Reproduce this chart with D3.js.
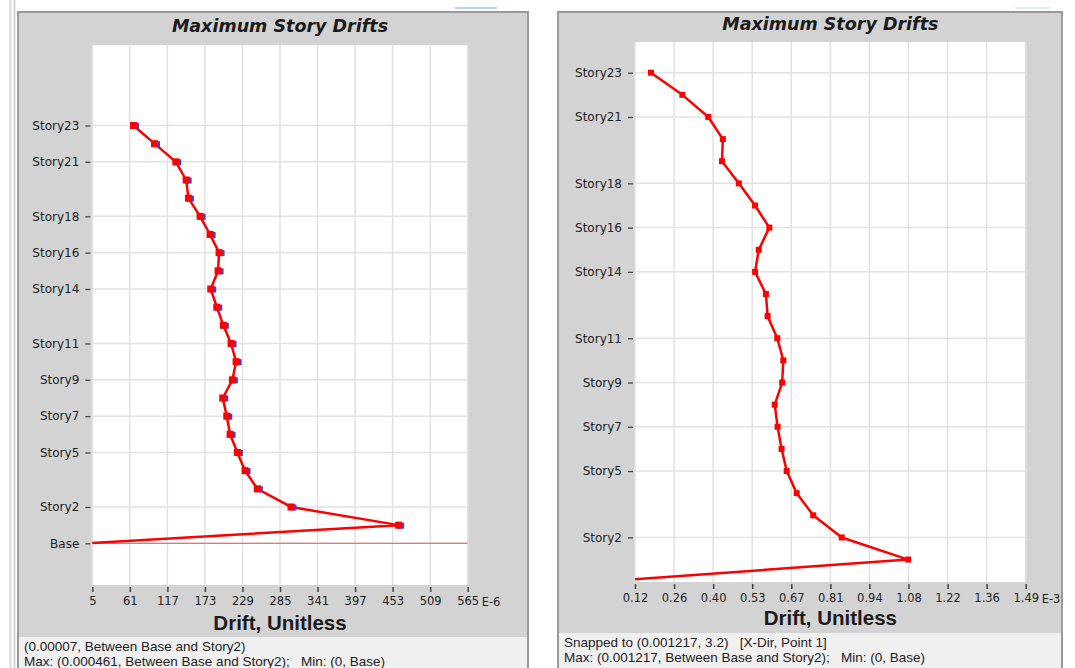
<!DOCTYPE html>
<html>
<head>
<meta charset="utf-8">
<script src="https://cdn.jsdelivr.net/npm/d3@7/dist/d3.min.js"></script>
<style>
body { margin:0; background:#ffffff; }
svg { display:block; }
</style>
</head>
<body>
<svg width="1075" height="668"></svg>
<script>

// story levels, top to bottom (Base = 0)
var levels = [23,22,21,20,19,18,17,16,15,14,13,12,11,10,9,8,7,6,5,4,3,2,1,0]

// left chart, drift in E-6
var leftDrift = [66.5,97.8,129.6,145,148.4,165.8,180.7,194.1,192.6,181.7,190.7,200.5,212,219.5,214,199.6,205.6,210.5,221.4,232.9,251.2,301.4,462,0]
// right chart, drift in E-3
var rightDrift = [0.176,0.286,0.377,0.428,0.425,0.484,0.541,0.591,0.554,0.541,0.579,0.585,0.619,0.640,0.636,0.610,0.620,0.634,0.652,0.687,0.745,0.845,1.078,0]

var leftStoryNames = ["Story23","Story21","Story18","Story16","Story14","Story11","Story9","Story7","Story5","Story2","Base"]
var leftStoryLevels = [23,21,18,16,14,11,9,7,5,2,0]
var rightStoryNames = ["Story23","Story21","Story18","Story16","Story14","Story11","Story9","Story7","Story5","Story2"]
var rightStoryLevels = [23,21,18,16,14,11,9,7,5,2]

var leftTickLabels = ["5","61","117","173","229","285","341","397","453","509","565"]
var rightTickLabels = ["0.12","0.26","0.40","0.53","0.67","0.81","0.94","1.08","1.22","1.36","1.49"]

var leftStatus = ["(0.00007, Between Base and Story2)", "Max: (0.000461, Between Base and Story2);   Min: (0, Base)"]
var rightStatus = ["Snapped to (0.001217, 3.2)   [X-Dir, Point 1]", "Max: (0.001217, Between Base and Story2);   Min: (0, Base)"]

var svg = d3.select("svg")

// window chrome on the far left
svg.append("rect").attr("x",9).attr("y",0).attr("width",3).attr("height",668).attr("fill","#e4e4e4")
svg.append("line").attr("x1",14.5).attr("x2",14.5).attr("y1",0).attr("y2",668).attr("stroke","#c8c8c8").attr("stroke-width",1.5)
svg.append("line").attr("x1",455).attr("x2",497).attr("y1",8).attr("y2",8).attr("stroke","#9ec3e6").attr("stroke-width",1.5)
svg.append("line").attr("x1",1015).attr("x2",1050).attr("y1",8).attr("y2",8).attr("stroke","#d6e6f4").attr("stroke-width",1.5)

var drawPanel = function(p)
{
    var g = svg.append("g")

    // panel frame
    g.append("rect")
        .attr("x",p.panel[0]).attr("y",p.panel[1])
        .attr("width",p.panel[2]).attr("height",p.panel[3])
        .attr("fill","#d3d3d3").attr("stroke","#9a9a9a").attr("stroke-width",2)
    g.append("rect")
        .attr("x",p.panel[0]+1).attr("y",p.statusTop)
        .attr("width",p.panel[2]-2).attr("height",668-p.statusTop)
        .attr("fill","#f0f0f0")

    var xScale = d3.scaleLinear().domain(p.xDomain).range([p.plot.left,p.plot.right])
    var yScale = d3.scaleLinear().domain([0,23]).range([p.baseY,p.topY])

    var step = (p.xDomain[1]-p.xDomain[0])/(p.tickLabels.length-1)
    var tickVals = p.tickLabels.map(function(t,i){return p.xDomain[0]+i*step})

    // plot area
    g.append("rect")
        .attr("x",p.plot.left).attr("y",p.plot.top)
        .attr("width",p.plot.right-p.plot.left).attr("height",p.plot.bottom-p.plot.top)
        .attr("fill","#ffffff")

    // grid
    g.selectAll(".vgrid").data(tickVals).enter().append("line")
        .attr("x1",function(d){return xScale(d)}).attr("x2",function(d){return xScale(d)})
        .attr("y1",p.plot.top).attr("y2",p.plot.bottom)
        .attr("stroke","#e2e2e2").attr("stroke-width",1.5)
    g.selectAll(".hgrid").data(p.storyLevels).enter().append("line")
        .attr("x1",p.plot.left).attr("x2",p.plot.right)
        .attr("y1",function(d){return yScale(d)}).attr("y2",function(d){return yScale(d)})
        .attr("stroke","#e2e2e2").attr("stroke-width",1.5)

    var clipId = "clip"+p.id
    svg.append("clipPath").attr("id",clipId).append("rect")
        .attr("x",p.plot.left).attr("y",p.plot.top)
        .attr("width",p.plot.right-p.plot.left).attr("height",p.plot.bottom-p.plot.top)

    var inner = g.append("g").attr("clip-path","url(#"+clipId+")")

    if (p.baseLine)
    {
        inner.append("line")
            .attr("x1",p.plot.left).attr("x2",p.plot.right)
            .attr("y1",yScale(0)).attr("y2",yScale(0))
            .attr("stroke","#ff6a6a").attr("stroke-width",1.3)
    }

    var pts = p.values.map(function(v,i){return {x:v, y:levels[i]}})

    var line = d3.line()
        .x(function(d){return xScale(d.x)})
        .y(function(d){return yScale(d.y)})

    inner.append("path")
        .datum(pts)
        .attr("d",line)
        .attr("fill","none")
        .attr("stroke","#ff0000")
        .attr("stroke-width",2.5)
        .attr("stroke-linejoin","round")

    var markerPts = pts.slice(0,pts.length-1)
    if (p.blueEdge)
    {
        inner.selectAll(".mkb").data(markerPts).enter().append("rect")
            .attr("x",function(d){return xScale(d.x)-p.ms/2+2})
            .attr("y",function(d){return yScale(d.y)-p.ms/2+1})
            .attr("width",p.ms).attr("height",p.ms-1)
            .attr("fill","#4040e0")
    }
    inner.selectAll(".mk").data(markerPts).enter().append("rect")
        .attr("x",function(d){return xScale(d.x)-p.ms/2})
        .attr("y",function(d){return yScale(d.y)-p.ms/2})
        .attr("width",p.ms).attr("height",p.ms)
        .attr("fill","#ff0000")

    // axes
    var xAxis = d3.axisBottom(xScale)
        .tickValues(tickVals)
        .tickFormat(function(d,i){return p.tickLabels[i]})
        .tickSize(5)
        .tickPadding(5)
    var xg = g.append("g")
        .attr("transform","translate(0,"+(p.plot.bottom+2)+")")
        .call(xAxis)
    xg.select(".domain").remove()
    xg.selectAll("line").attr("stroke","#444").attr("stroke-width",1.5)
    xg.selectAll("text").attr("fill","#222").style("font-family","DejaVu Sans").style("font-size","11.5px")

    g.append("text")
        .attr("x",p.plot.right+p.unitDx).attr("y",p.plot.bottom+21)
        .attr("fill","#222").style("font-family","DejaVu Sans").style("font-size","11.5px")
        .text(p.unit)

    var yAxis = d3.axisLeft(yScale)
        .tickValues(p.storyLevels)
        .tickFormat(function(d,i){return p.storyNames[i]})
        .tickSize(5)
        .tickPadding(6)
    var yg = g.append("g")
        .attr("transform","translate("+(p.plot.left-2)+",0)")
        .call(yAxis)
    yg.select(".domain").remove()
    yg.selectAll("line").attr("stroke","#444").attr("stroke-width",1.3)
    yg.selectAll("text").attr("fill","#222").style("font-family","DejaVu Sans").style("font-size","12px")

    // titles
    var cx = (p.plot.left+p.plot.right)/2
    g.append("text")
        .attr("x",cx).attr("y",p.titleY)
        .attr("text-anchor","middle")
        .attr("fill","#1a1a1a")
        .style("font-family","DejaVu Sans").style("font-size","17.5px")
        .style("font-weight","bold").style("font-style","italic")
        .text("Maximum Story Drifts")
    g.append("text")
        .attr("x",cx).attr("y",p.xTitleY)
        .attr("text-anchor","middle")
        .attr("fill","#1a1a1a")
        .style("font-family","Liberation Sans").style("font-size","20.5px")
        .style("font-weight","bold")
        .text("Drift, Unitless")

    g.selectAll(".status").data(p.status).enter().append("text")
        .attr("x",p.panel[0]+6)
        .attr("y",function(d,i){return p.statusTop+14+i*15})
        .attr("fill","#222")
        .style("font-family","Liberation Sans").style("font-size","13.5px")
        .style("white-space","pre")
        .text(function(d){return d})
}

drawPanel({
    id:"L",
    panel:[18,12,510,670],
    statusTop:637,
    plot:{left:92.3,right:467.7,top:45,bottom:585},
    baseY:543.3, topY:125.5,
    xDomain:[5,565],
    tickLabels:leftTickLabels,
    unit:"E-6",
    unitDx:14,
    values:leftDrift,
    storyNames:leftStoryNames,
    storyLevels:leftStoryLevels,
    baseLine:true,
    blueEdge:true,
    ms:7,
    titleY:32, xTitleY:630,
    status:leftStatus
})

drawPanel({
    id:"R",
    panel:[558,12,504,670],
    statusTop:633,
    plot:{left:635,right:1025.7,top:42,bottom:582},
    baseY:581.7, topY:72.7,
    xDomain:[0.12,1.49],
    tickLabels:rightTickLabels,
    unit:"E-3",
    unitDx:16,
    values:rightDrift,
    storyNames:rightStoryNames,
    storyLevels:rightStoryLevels,
    baseLine:false,
    blueEdge:false,
    ms:6,
    titleY:30, xTitleY:625,
    status:rightStatus
})

</script>
</body>
</html>
